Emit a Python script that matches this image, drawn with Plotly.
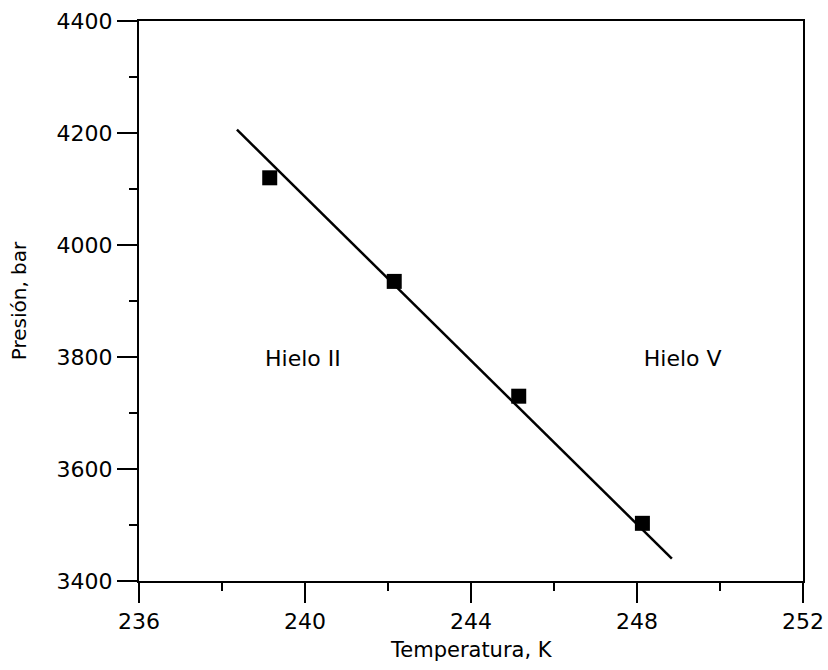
import plotly.graph_objects as go

# Data
temp_pts = [239.15, 242.15, 245.15, 248.13]
pres_pts = [4120, 3935, 3730, 3503]
fit_temp = [238.36, 248.84]
fit_pres = [4206, 3440]
region_labels = ["Hielo II", "Hielo V"]
label_temp = [239.95, 249.1]
label_pres = [3793, 3793]

x_ticks = [236, 240, 244, 248, 252]
y_ticks = [3400, 3600, 3800, 4000, 4200, 4400]

font_family = "DejaVu Sans, sans-serif"

fig = go.Figure()
fig.add_trace(go.Scatter(x=fit_temp, y=fit_pres, mode="lines",
                         line=dict(color="black", width=2.5), showlegend=False))
fig.add_trace(go.Scatter(x=temp_pts, y=pres_pts, mode="markers",
                         marker=dict(symbol="square", size=15, color="black"),
                         showlegend=False))
fig.add_trace(go.Scatter(x=label_temp, y=label_pres, mode="text", text=region_labels,
                         textfont=dict(family=font_family, size=22, color="black"),
                         showlegend=False))

axis_common = dict(
    showline=True, linecolor="black", linewidth=2, mirror=True,
    ticks="outside", tickcolor="black", tickwidth=2, ticklen=20,
    showgrid=False, zeroline=False, automargin=False,
    tickfont=dict(family=font_family, size=22, color="black"),
)

fig.update_xaxes(range=[236, 252], tickvals=x_ticks,
                 minor=dict(dtick=2, ticks="outside", ticklen=8, tickcolor="black", tickwidth=2),
                 **axis_common)
fig.update_yaxes(range=[3400, 4400], tickvals=y_ticks,
                 minor=dict(dtick=100, ticks="outside", ticklen=8, tickcolor="black", tickwidth=2),
                 title=dict(text="Presión, bar", font=dict(family=font_family, size=20, color="black"), standoff=25),
                 **axis_common)

fig.add_annotation(text="Temperatura, K", xref="paper", yref="paper", x=0.5, y=-0.123,
                   xanchor="center", yanchor="middle", showarrow=False,
                   font=dict(family=font_family, size=21, color="black"))

fig.update_layout(width=828, height=670, margin=dict(l=139, r=25, t=21, b=89),
                  plot_bgcolor="white", paper_bgcolor="white")

fig.write_html("out.html")
